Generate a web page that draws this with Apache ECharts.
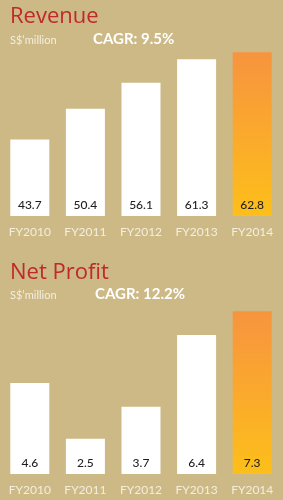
<!DOCTYPE html>
<html>
<head>
<meta charset="utf-8">
<script src="https://cdn.jsdelivr.net/npm/echarts@6/dist/echarts.min.js"></script>
<style>
  html, body { margin: 0; padding: 0; background: #CCB986; }
  #chart { width: 283px; height: 500px; }
</style>
</head>
<body>
<div id="chart"></div>
<script>
var categories = ["FY2010", "FY2011", "FY2012", "FY2013", "FY2014"];
var revenue = [43.7, 50.4, 56.1, 61.3, 62.8];
var netProfit = [4.6, 2.5, 3.7, 6.4, 7.3];

var chart = echarts.init(document.getElementById("chart"));

function hiBar() {
  return new echarts.graphic.LinearGradient(0, 0, 0, 1, [
    { offset: 0, color: "#F7943F" },
    { offset: 1, color: "#FDBF1A" }
  ]);
}
function toData(arr) {
  return arr.map(function (v, i) {
    if (i === arr.length - 1) return { value: v, itemStyle: { color: hiBar() } };
    return v;
  });
}

var labelFont = "Lato, 'Open Sans', sans-serif";
var catLabel = { color: "#F4EEDE", fontSize: 12, fontFamily: labelFont, margin: 10 };
var valLabel = {
  show: true, position: "insideBottom", distance: 5,
  color: "#1E1E1E", fontSize: 12, fontFamily: labelFont, fontWeight: 500
};

var option = {
  backgroundColor: "#CCB986",
  animation: false,
  graphic: [
    { type: "text", left: 10, top: 6, style: { text: "Revenue", fill: "#C0282C", font: "22px 'Open Sans', sans-serif" } },
    { type: "text", left: 10, top: 35, style: { text: "S$\u2019million", fill: "#F4EEDF", font: "11px " + labelFont } },
    { type: "text", left: 93, top: 32, style: { text: "CAGR: 9.5%", fill: "#FFFFFF", font: "bold 15px " + labelFont } },
    { type: "text", left: 10, top: 262, style: { text: "Net Profit", fill: "#C0282C", font: "22px 'Open Sans', sans-serif" } },
    { type: "text", left: 10, top: 290, style: { text: "S$\u2019million", fill: "#F4EEDF", font: "11px " + labelFont } },
    { type: "text", left: 95, top: 287, style: { text: "CAGR: 12.2%", fill: "#FFFFFF", font: "bold 15px " + labelFont } }
  ],
  grid: [
    { left: 2, right: 3, top: 40, height: 176 },
    { left: 2, right: 3, top: 300, height: 174 }
  ],
  xAxis: [
    { type: "category", gridIndex: 0, data: categories, axisLine: { show: false }, axisTick: { show: false }, axisLabel: catLabel },
    { type: "category", gridIndex: 1, data: categories, axisLine: { show: false }, axisTick: { show: false }, axisLabel: catLabel }
  ],
  yAxis: [
    { type: "value", gridIndex: 0, min: 26.9, max: 65.5, show: false, splitLine: { show: false } },
    { type: "value", gridIndex: 1, min: 1.17, max: 7.72, show: false, splitLine: { show: false } }
  ],
  series: [
    { type: "bar", xAxisIndex: 0, yAxisIndex: 0, barWidth: 39, data: toData(revenue),
      itemStyle: { color: "#FFFFFF" }, label: valLabel },
    { type: "bar", xAxisIndex: 1, yAxisIndex: 1, barWidth: 39, data: toData(netProfit),
      itemStyle: { color: "#FFFFFF" }, label: valLabel }
  ]
};
chart.setOption(option);
</script>
</body>
</html>
